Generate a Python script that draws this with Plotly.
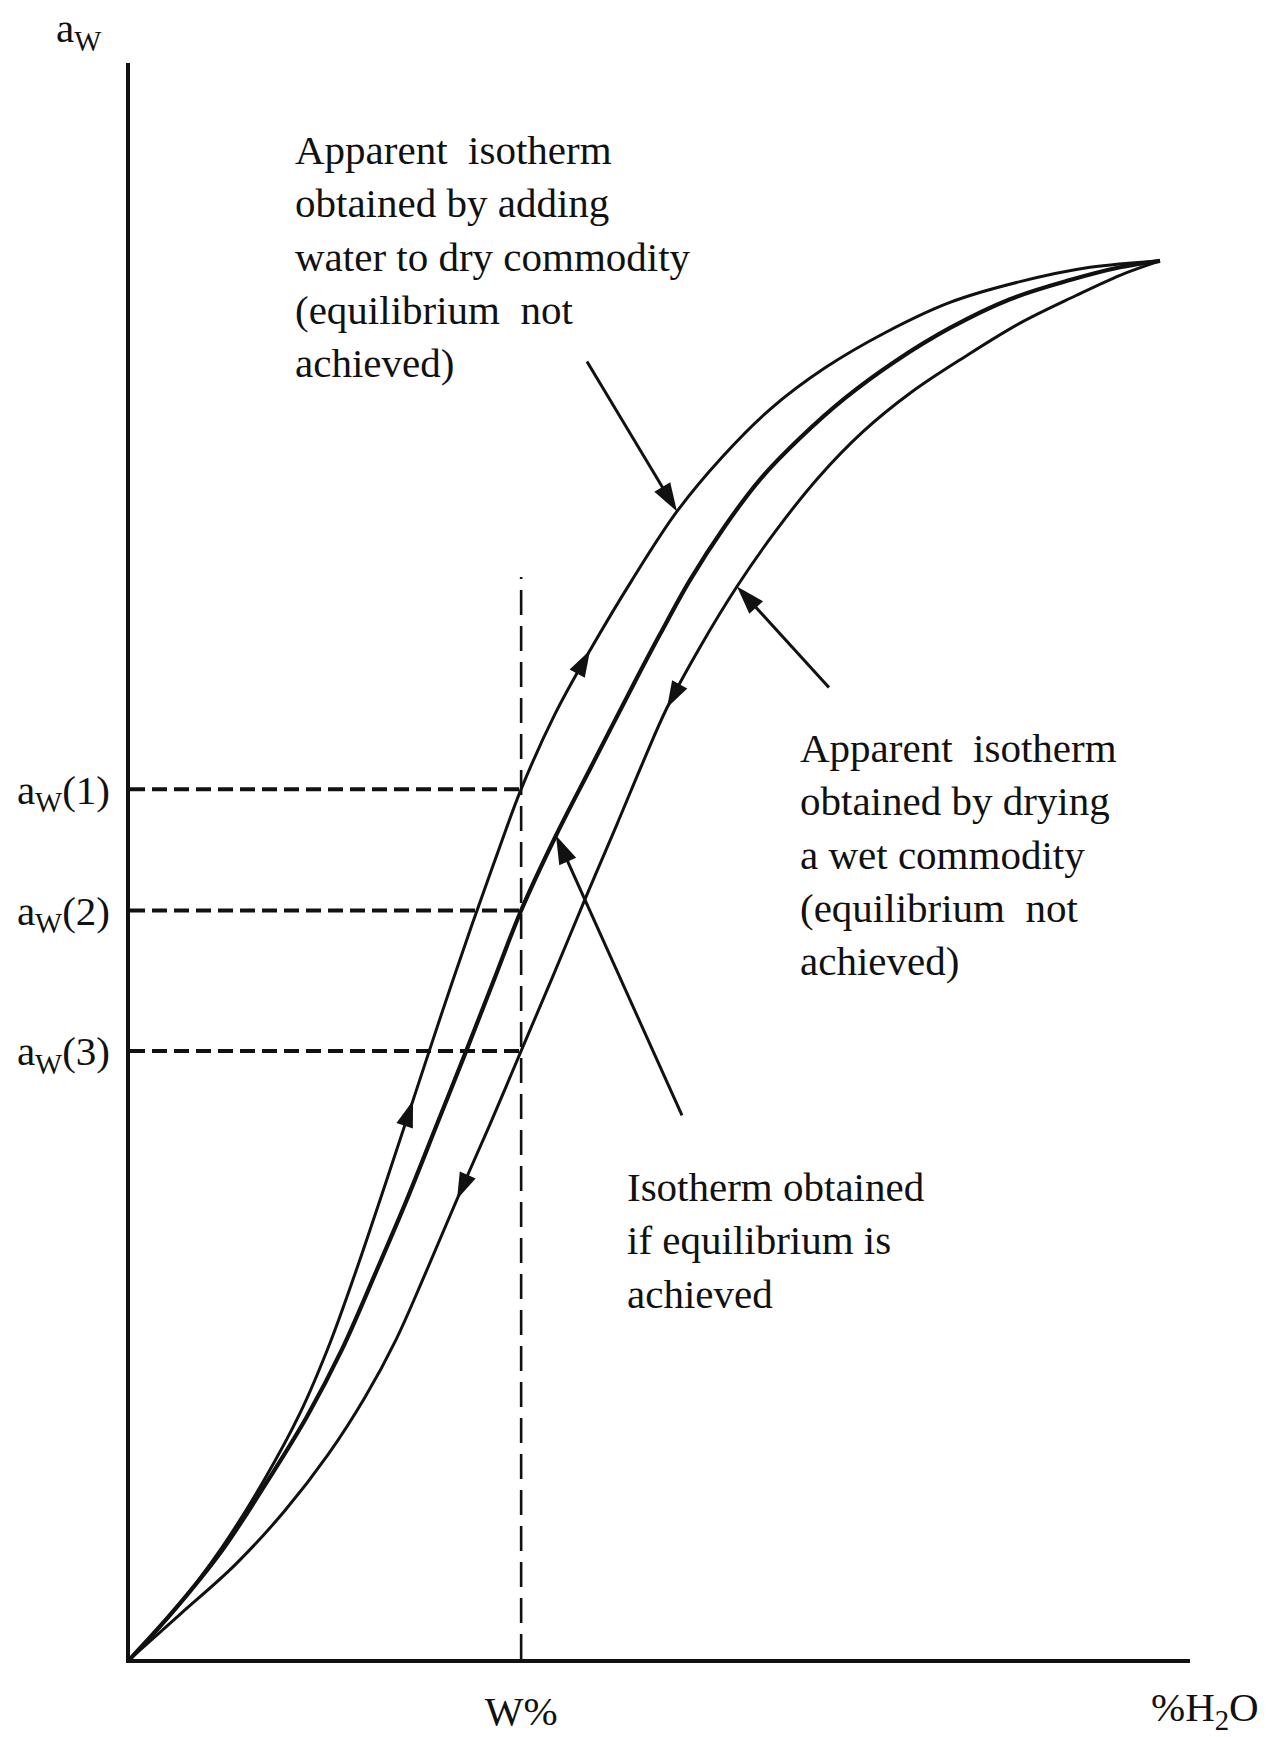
import plotly.graph_objects as go

# ---------------------------------------------------------------------------
# Sorption isotherms: moisture content (% H2O, relative scale 0-100)
# against water activity a_w.
# ---------------------------------------------------------------------------
W_PCT = 36.9                              # chosen moisture content W%
AW_1, AW_2, AW_3 = 0.545, 0.469, 0.381    # a_w read at W% on each curve
W_GUIDE_TOP = 0.678                       # upper end of the W% guide line

# Apparent isotherm obtained by adding water to the dry commodity
adsorption_x = [0, 4.25, 8.68, 12.64, 16.04, 18.87, 21.42, 24.06, 26.70, 29.43,
                32.26, 34.62, 36.9, 40.09, 43.40, 47.36, 51.60, 55.85, 60.38,
                65.57, 71.23, 77.36, 83.96, 90.57, 97.17]
adsorption_aw = [0, 0.031, 0.070, 0.112, 0.154, 0.198, 0.245, 0.297, 0.350, 0.405,
                 0.460, 0.504, 0.545, 0.592, 0.632, 0.676, 0.719, 0.753, 0.783,
                 0.809, 0.831, 0.850, 0.863, 0.872, 0.876]

# Isotherm obtained if equilibrium is achieved
equilibrium_x = [0, 3.96, 8.68, 12.83, 16.70, 20.00, 23.11, 26.13, 28.96, 31.60,
                 34.25, 36.9, 40.19, 43.58, 47.45, 50.00, 52.83, 56.04, 59.43,
                 63.21, 67.45, 72.17, 77.36, 83.02, 88.68, 93.40, 97.17]
equilibrium_aw = [0, 0.029, 0.068, 0.110, 0.152, 0.194, 0.241, 0.288, 0.335, 0.379,
                  0.424, 0.469, 0.516, 0.560, 0.610, 0.642, 0.676, 0.709, 0.739,
                  0.765, 0.790, 0.813, 0.834, 0.852, 0.864, 0.872, 0.876]

# Apparent isotherm obtained by drying a wet commodity
desorption_x = [0, 4.72, 9.91, 14.62, 18.68, 22.17, 25.09, 27.83, 30.85, 33.96,
                36.9, 39.91, 42.92, 45.94, 48.40, 50.66, 53.77, 57.26, 60.94,
                64.91, 69.15, 73.77, 78.77, 83.96, 89.15, 93.40, 97.17]
desorption_aw = [0, 0.028, 0.059, 0.093, 0.128, 0.164, 0.200, 0.241, 0.288, 0.335,
                 0.381, 0.428, 0.476, 0.523, 0.562, 0.596, 0.634, 0.672, 0.707,
                 0.740, 0.769, 0.794, 0.816, 0.837, 0.854, 0.867, 0.876]

AW_TICK_LABELS = ["a<sub>W</sub>(1)", "a<sub>W</sub>(2)", "a<sub>W</sub>(3)"]
X_TICK_LABEL = "W%"

# ---------------------------------------------------------------------------
FIG_W, FIG_H = 1273, 1737
ML, MR, MT, MB = 130, 83, 63, 78
X_RANGE = (0, 100)
Y_RANGE = (0, 1)
PLOT_W = FIG_W - ML - MR
PLOT_H = FIG_H - MT - MB
PX_X = PLOT_W / (X_RANGE[1] - X_RANGE[0])
PX_Y = PLOT_H / (Y_RANGE[1] - Y_RANGE[0])

INK = "#111111"
SERIF = "Liberation Serif, Times New Roman, serif"
TEXT_SIZE = 41


def shift(x, y, dx_px, dy_px):
    """Move a data point by a screen offset (pixels, y downwards)."""
    return x + dx_px / PX_X, y - dy_px / PX_Y


def paper_pos(px, py):
    """Page pixel position -> paper coordinates of the plot area."""
    return (px - ML) / PLOT_W, (FIG_H - MB - py) / PLOT_H


fig = go.Figure()


def add_curve(xs, ys, width):
    fig.add_trace(go.Scatter(
        x=xs, y=ys, mode="lines",
        line=dict(color=INK, width=width, shape="spline", smoothing=1.0),
        hoverinfo="skip"))


def add_flow_arrow(xs, ys, tail, tip, size=28):
    """Arrowhead sitting on a curve, pointing from point `tail` to point `tip`."""
    fig.add_trace(go.Scatter(
        x=[xs[tail], xs[tip]], y=[ys[tail], ys[tip]], mode="markers",
        marker=dict(symbol="arrow", angleref="previous", size=size, color=INK,
                    line=dict(width=0)),
        hoverinfo="skip"))


def add_pointer(xs, ys, idx, dx_px, dy_px):
    """Leader line from a caption to a curve, ending in an arrowhead."""
    tx, ty = shift(xs[idx], ys[idx], dx_px, dy_px)
    fig.add_trace(go.Scatter(
        x=[tx, xs[idx]], y=[ty, ys[idx]], mode="lines+markers",
        line=dict(color=INK, width=3.0),
        marker=dict(symbol="arrow", angleref="previous", size=30, color=INK,
                    line=dict(width=0)),
        hoverinfo="skip"))


# dashed guides at W% and at the three water activities
for level in (AW_1, AW_2, AW_3):
    fig.add_trace(go.Scatter(
        x=[0, W_PCT], y=[level, level], mode="lines",
        line=dict(color=INK, width=4.0, dash="15px,7px"), hoverinfo="skip"))
fig.add_trace(go.Scatter(
    x=[W_PCT, W_PCT], y=[0, W_GUIDE_TOP], mode="lines",
    line=dict(color=INK, width=2.6, dash="25px,11px"), hoverinfo="skip"))

# the three isotherms
add_curve(adsorption_x, adsorption_aw, 3.0)
add_curve(equilibrium_x, equilibrium_aw, 4.2)
add_curve(desorption_x, desorption_aw, 3.0)

# direction of travel: upwards when wetting, downwards when drying
add_flow_arrow(adsorption_x, adsorption_aw, 7, 8)
add_flow_arrow(adsorption_x, adsorption_aw, 13, 14)
add_flow_arrow(desorption_x, desorption_aw, 9, 8)
add_flow_arrow(desorption_x, desorption_aw, 16, 15)

# leader lines from the captions
add_pointer(adsorption_x, adsorption_aw, 16, -90, -150)
add_pointer(desorption_x, desorption_aw, 17, 92, 101)
add_pointer(equilibrium_x, equilibrium_aw, 12, 126, 280)

caption_font = dict(family=SERIF, size=TEXT_SIZE, color=INK)
captions = [
    (15.38, 0.879,
     "Apparent\u00a0 isotherm<br>obtained by adding<br>water to dry commodity"
     "<br>(equilibrium\u00a0 not<br>achieved)"),
    (63.0, 0.504,
     "Apparent\u00a0 isotherm<br>obtained by drying<br>a wet commodity"
     "<br>(equilibrium\u00a0 not<br>achieved)"),
    (46.7, 0.262,
     "Isotherm obtained<br>if equilibrium is<br>achieved"),
]
annotations = [
    dict(x=x, y=y, xref="x", yref="y", text=t, showarrow=False,
         xanchor="left", yanchor="middle", align="left", font=caption_font)
    for x, y, t in captions
]
# axis titles
ax_x, ax_y = paper_pos(79, 31)
annotations.append(dict(x=ax_x, y=ax_y, xref="paper", yref="paper",
                        text="a<sub>W</sub>", showarrow=False,
                        xanchor="center", yanchor="middle", font=caption_font))
hx, hy = paper_pos(1205, 1710)
annotations.append(dict(x=hx, y=hy, xref="paper", yref="paper",
                        text="%H<sub>2</sub>O", showarrow=False,
                        xanchor="center", yanchor="middle", font=caption_font))

axis_common = dict(showline=True, linewidth=3.6, linecolor=INK, showgrid=False,
                   zeroline=False, ticks="", fixedrange=True, automargin=False,
                   tickfont=dict(family=SERIF, size=TEXT_SIZE, color=INK))

fig.update_layout(
    width=FIG_W, height=FIG_H, autosize=False,
    margin=dict(l=ML, r=MR, t=MT, b=MB, autoexpand=False),
    paper_bgcolor="white", plot_bgcolor="white",
    showlegend=False, hovermode=False,
    xaxis=dict(range=list(X_RANGE), tickvals=[W_PCT], ticktext=[X_TICK_LABEL],
               ticklabelstandoff=13, **axis_common),
    yaxis=dict(range=list(Y_RANGE), tickvals=[AW_1, AW_2, AW_3], ticktext=AW_TICK_LABELS,
               ticklabelstandoff=8, **axis_common),
    annotations=annotations,
)

fig.write_html("out.html")
